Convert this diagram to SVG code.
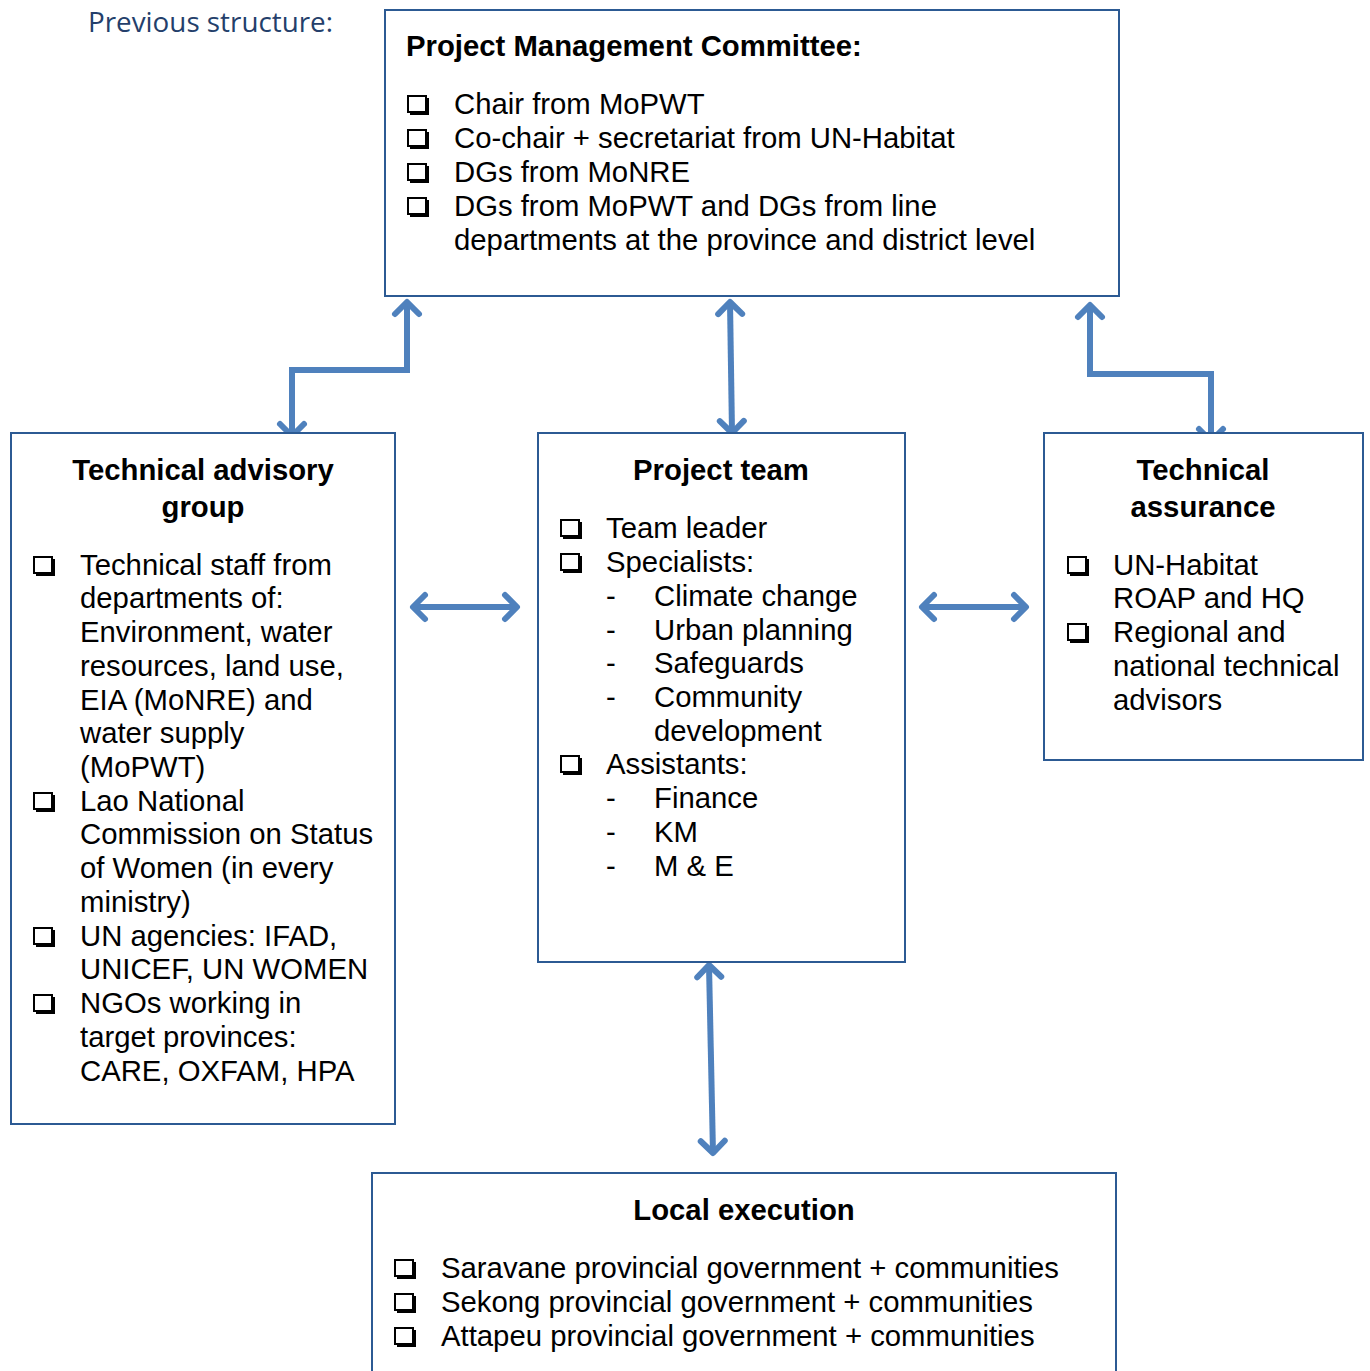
<svg xmlns="http://www.w3.org/2000/svg" width="1370" height="1371" viewBox="0 0 1370 1371">
<style>
.box{fill:#fff;stroke:#2c5a93;stroke-width:2}
.t{font-family:"Liberation Sans",Arial,sans-serif;font-size:29.3px;fill:#000}
.b{font-weight:bold}
.c{text-anchor:middle}
.con{fill:none;stroke:#4f81bd;stroke-width:6;stroke-linejoin:miter}
</style>
<defs>
<marker id="ah" markerUnits="userSpaceOnUse" viewBox="-20 -20 40 40" refX="0" refY="0" markerWidth="40" markerHeight="40" orient="auto-start-reverse">
<path d="M-12,-12 L0,0 L-12,12" fill="none" stroke="#4f81bd" stroke-width="6" stroke-linecap="round" stroke-linejoin="round"/>
</marker>
<g id="cb">
<rect x="3" y="3" width="19" height="17" fill="#000"/>
<rect x="1" y="1" width="18" height="16" fill="#fff" stroke="#000" stroke-width="2"/>
</g>
</defs>
<text x="88" y="32" font-family="'Open Sans',sans-serif" font-size="27" fill="#243f6b" textLength="245" lengthAdjust="spacingAndGlyphs">Previous structure:</text>

<g id="connectors">
<path class="con" d="M407,302 V370 H292 V436" marker-start="url(#ah)" marker-end="url(#ah)"/>
<path class="con" d="M730,302 L732,433" marker-start="url(#ah)" marker-end="url(#ah)"/>
<path class="con" d="M1090,305 V374 H1211 V441" marker-start="url(#ah)" marker-end="url(#ah)"/>
<path class="con" d="M413,607 H517" marker-start="url(#ah)" marker-end="url(#ah)"/>
<path class="con" d="M922,607 H1026" marker-start="url(#ah)" marker-end="url(#ah)"/>
<path class="con" d="M709,965 L713,1153" marker-start="url(#ah)" marker-end="url(#ah)"/>
</g>

<g id="pmc">
<rect class="box" x="385" y="10" width="734" height="286"/>
<text class="t b" x="406" y="56">Project Management Committee:</text>
<use href="#cb" x="407" y="95"/>
<use href="#cb" x="407" y="129"/>
<use href="#cb" x="407" y="163"/>
<use href="#cb" x="407" y="197"/>
<text class="t" x="454" y="114">Chair from MoPWT</text>
<text class="t" x="454" y="148">Co-chair + secretariat from UN-Habitat</text>
<text class="t" x="454" y="182">DGs from MoNRE</text>
<text class="t" x="454" y="216">DGs from MoPWT and DGs from line</text>
<text class="t" x="454" y="250">departments at the province and district level</text>
</g>

<g id="tag">
<rect class="box" x="11" y="433" width="384" height="691"/>
<text class="t b c" x="203" y="480">Technical advisory</text>
<text class="t b c" x="203" y="517">group</text>
<use href="#cb" x="33" y="556"/>
<use href="#cb" x="33" y="792"/>
<use href="#cb" x="33" y="927"/>
<use href="#cb" x="33" y="994"/>
<text class="t" x="80" y="575">Technical staff from</text>
<text class="t" x="80" y="608">departments of:</text>
<text class="t" x="80" y="642">Environment, water</text>
<text class="t" x="80" y="676">resources, land use,</text>
<text class="t" x="80" y="710">EIA (MoNRE) and</text>
<text class="t" x="80" y="743">water supply</text>
<text class="t" x="80" y="777">(MoPWT)</text>
<text class="t" x="80" y="811">Lao National</text>
<text class="t" x="80" y="844">Commission on Status</text>
<text class="t" x="80" y="878">of Women (in every</text>
<text class="t" x="80" y="912">ministry)</text>
<text class="t" x="80" y="946">UN agencies: IFAD,</text>
<text class="t" x="80" y="979">UNICEF, UN WOMEN</text>
<text class="t" x="80" y="1013">NGOs working in</text>
<text class="t" x="80" y="1047">target provinces:</text>
<text class="t" x="80" y="1081">CARE, OXFAM, HPA</text>
</g>

<g id="team">
<rect class="box" x="538" y="433" width="367" height="529"/>
<text class="t b c" x="721" y="480">Project team</text>
<use href="#cb" x="560" y="519"/>
<use href="#cb" x="560" y="553"/>
<use href="#cb" x="560" y="755"/>
<text class="t" x="606" y="538">Team leader</text>
<text class="t" x="606" y="572">Specialists:</text>
<text class="t" x="606" y="606">-</text>
<text class="t" x="606" y="640">-</text>
<text class="t" x="606" y="673">-</text>
<text class="t" x="606" y="707">-</text>
<text class="t" x="654" y="606">Climate change</text>
<text class="t" x="654" y="640">Urban planning</text>
<text class="t" x="654" y="673">Safeguards</text>
<text class="t" x="654" y="707">Community</text>
<text class="t" x="654" y="741">development</text>
<text class="t" x="606" y="774">Assistants:</text>
<text class="t" x="606" y="808">-</text>
<text class="t" x="606" y="842">-</text>
<text class="t" x="606" y="876">-</text>
<text class="t" x="654" y="808">Finance</text>
<text class="t" x="654" y="842">KM</text>
<text class="t" x="654" y="876">M &amp; E</text>
</g>

<g id="ta">
<rect class="box" x="1044" y="433" width="319" height="327"/>
<text class="t b c" x="1203" y="480">Technical</text>
<text class="t b c" x="1203" y="517">assurance</text>
<use href="#cb" x="1067" y="556"/>
<use href="#cb" x="1067" y="623"/>
<text class="t" x="1113" y="575">UN-Habitat</text>
<text class="t" x="1113" y="608">ROAP and HQ</text>
<text class="t" x="1113" y="642">Regional and</text>
<text class="t" x="1113" y="676">national technical</text>
<text class="t" x="1113" y="710">advisors</text>
</g>

<g id="local">
<rect class="box" x="372" y="1173" width="744" height="210"/>
<text class="t b c" x="744" y="1220">Local execution</text>
<use href="#cb" x="394" y="1259"/>
<use href="#cb" x="394" y="1293"/>
<use href="#cb" x="394" y="1327"/>
<text class="t" x="441" y="1278">Saravane provincial government + communities</text>
<text class="t" x="441" y="1312">Sekong provincial government + communities</text>
<text class="t" x="441" y="1346">Attapeu provincial government + communities</text>
</g>
</svg>
